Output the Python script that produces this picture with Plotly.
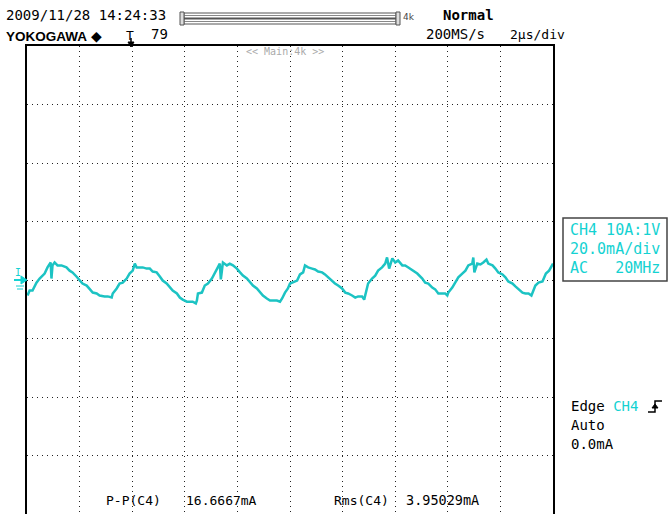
import plotly.graph_objects as go

# ---- data (time in µs, current in mA) ----
time_us = [0.02, 0.10, 0.21, 0.36, 0.48, 0.67, 0.78, 0.90, 0.93, 0.97, 1.05, 1.16, 1.31, 1.50, 1.62,
           1.73, 1.88, 2.00, 2.11, 2.27, 2.38, 2.50, 2.65, 2.76, 2.95, 3.07, 3.22, 3.26, 3.41, 3.52,
           3.64, 3.79, 3.90, 4.02, 4.10, 4.17, 4.29, 4.40, 4.55, 4.67, 4.78, 4.93, 5.05, 5.16, 5.31,
           5.43, 5.54, 5.70, 5.81, 5.92, 6.08, 6.19, 6.30, 6.42, 6.46, 6.50, 6.65, 6.76, 6.88, 7.03,
           7.14, 7.26, 7.33, 7.37, 7.45, 7.60, 7.71, 7.83, 7.98, 8.10, 8.21, 8.36, 8.48, 8.59, 8.74,
           8.86, 8.97, 9.12, 9.24, 9.35, 9.50, 9.62, 9.70, 9.81, 9.92, 10.00, 10.11, 10.27, 10.38,
           10.50, 10.57, 10.69, 10.84, 10.95, 11.07, 11.22, 11.33, 11.45, 11.60, 11.71, 11.83, 11.98,
           12.10, 12.21, 12.36, 12.48, 12.59, 12.74, 12.82, 12.86, 12.97, 13.12, 13.24, 13.35, 13.50,
           13.62, 13.69, 13.77, 13.89, 14.00, 14.11, 14.27, 14.38, 14.50, 14.69, 14.84, 15.03, 15.14,
           15.26, 15.41, 15.52, 15.64, 15.79, 15.90, 15.98, 16.02, 16.17, 16.29, 16.40, 16.55, 16.67,
           16.78, 16.93, 16.97, 17.01, 17.12, 17.24, 17.35, 17.47, 17.54, 17.70, 17.81, 17.92, 18.08,
           18.19, 18.30, 18.46, 18.57, 18.69, 18.84, 18.95, 19.07, 19.18, 19.22, 19.33, 19.45, 19.60,
           19.73, 19.85, 20.00]
current_mA = [-5.3, -3.6, -3.6, -0.9, 0.5, 2.2, 4.3, 6.0, 0.5, 5.0, 6.0, 5.0, 5.0, 4.3, 3.2,
              2.6, 1.2, -0.2, -1.2, -1.9, -2.9, -4.3, -4.6, -5.3, -5.6, -5.6, -6.0, -4.6, -2.9, -1.2,
              -0.9, 0.5, 2.2, 3.2, 5.6, 4.3, 4.3, 4.3, 3.9, 3.9, 2.9, 2.6, 1.2, -0.2, -1.2,
              -2.6, -3.6, -4.6, -6.0, -6.7, -7.4, -7.4, -7.4, -8.0, -7.0, -4.6, -4.3, -1.9, -1.2, 0.5,
              2.2, 4.3, 5.6, 0.2, 6.0, 5.0, 5.6, 5.0, 3.9, 2.6, 1.5, 0.5, -0.9, -1.9, -2.9,
              -4.3, -5.3, -6.3, -7.0, -7.0, -7.0, -7.4, -6.3, -4.3, -2.9, -1.2, -0.9, -0.2, 1.9,
              2.6, 5.0, 4.3, 3.9, 3.6, 2.9, 2.6, 1.9, 0.9, -0.2, -1.2, -1.9, -2.9,
              -4.3, -4.6, -5.3, -6.0, -5.6, -5.6, -6.7, -5.3, -1.2, 0.5, 1.5, 3.2, 4.3,
              5.6, 7.7, 3.9, 7.4, 6.0, 6.7, 5.0, 5.0, 4.3, 3.2, 2.2, 0.5, -0.9,
              -1.2, -2.6, -3.2, -4.6, -4.6, -4.6, -5.3, -4.3, -2.6, -0.9, 0.9, 2.2, 3.2,
              5.0, 5.6, 7.7, 2.6, 5.6, 5.3, 6.0, 7.0, 5.6, 5.0, 3.9, 2.6, 1.9,
              0.9, -0.5, -1.2, -2.2, -3.2, -4.3, -4.6, -4.6, -5.3, -4.3, -1.9, -0.9, -0.5,
              2.2, 3.2, 5.6]

x_range = [0, 20]       # 10 div x 2 µs/div
y_range = [-80, 80]     # 8 div x 20 mA/div

# ---- pixel helpers for layout decorations ----
L, R, T, B = 27, 553, 46, 514
W, H = R - L, B - T
def px(x): return (x - L) / W
def py(y): return (B - y) / H

TRACE = '#1CC3C3'
CYAN = '#14D2D2'
MONO = 'DejaVu Sans Mono, Liberation Mono, monospace'

fig = go.Figure()
fig.add_trace(go.Scatter(x=time_us, y=current_mA, mode='lines',
                         line=dict(color=TRACE, width=2.5), hoverinfo='skip'))

grid = dict(showgrid=True, gridcolor='#222222', gridwidth=1, griddash='1px,4px',
            zeroline=False, showticklabels=False, ticks='', fixedrange=True)
fig.update_xaxes(range=x_range, dtick=2, tick0=0, **grid,
                 showline=True, linecolor='black', linewidth=1.5, mirror=True)
fig.update_yaxes(range=y_range, dtick=20, tick0=-80, **grid,
                 showline=True, linecolor='black', linewidth=1.5, mirror=True)

ann = []
def text(x, y, s, size=14, color='black', family=MONO, xanchor='left', yanchor='middle'):
    ann.append(dict(x=px(x), y=py(y), xref='paper', yref='paper', text=s, showarrow=False,
                    font=dict(family=family, size=size, color=color),
                    xanchor=xanchor, yanchor=yanchor))

text(4, 15, '2009/11/28 14:24:33', size=14)
text(4, 36, '<b>YOKOGAWA</b> ◆', size=13.5, family='Liberation Sans Narrow, Liberation Sans, Arial')
text(124, 35, 'T', size=13)
text(149, 34, '79', size=14)
text(401, 17, '4k', size=9, color='#444444', family='DejaVu Sans')
text(441, 15, '<b>Normal</b>', size=14)
text(424, 34, '200MS/s', size=14)
text(508, 34, '2µs/div', size=13)
text(244, 52, '<< Main:4k >>', size=10, color='#aaaaaa')
text(568, 230, 'CH4 10A:1V', size=15, color=CYAN)
text(568, 249, '20.0mA/div', size=15, color=CYAN)
text(568, 268, 'AC   20MHz', size=15, color=CYAN)
text(569, 406, 'Edge <span style="color:%s">CH4</span>' % CYAN, size=14)
text(569, 425, 'Auto', size=14)
text(569, 444, '0.0mA', size=14)
text(104, 500, 'P-P(C4)', size=13)
text(184, 500, '16.6667mA', size=13)
text(332, 500, 'Rms(C4)', size=13)
text(404, 500, '3.95029mA', size=13.5)
text(18, 272, 'I', size=10, color=CYAN, xanchor='center')

shapes = []
def line(x0, y0, x1, y1, color='black', width=1):
    shapes.append(dict(type='line', xref='paper', yref='paper', x0=px(x0), y0=py(y0),
                       x1=px(x1), y1=py(y1), line=dict(color=color, width=width)))
# acquisition bar
shapes.append(dict(type='rect', xref='paper', yref='paper', x0=px(184), y0=py(13), x1=px(396), y1=py(24),
                   line=dict(color='#555555', width=1), fillcolor='white'))
line(184, 18.5, 396, 18.5, '#555555', 2)
line(184, 15.5, 396, 15.5, '#888888', 1)
line(184, 21.5, 396, 21.5, '#888888', 1)
shapes.append(dict(type='rect', xref='paper', yref='paper', x0=px(180), y0=py(12), x1=px(184), y1=py(25),
                   line=dict(color='#555555', width=1), fillcolor='#dddddd'))
shapes.append(dict(type='rect', xref='paper', yref='paper', x0=px(396), y0=py(12), x1=px(400), y1=py(25),
                   line=dict(color='#555555', width=1), fillcolor='#dddddd'))
# trigger position marker
line(131, 38, 131, 44, 'black', 1.5)
shapes.append(dict(type='path', xref='paper', yref='paper',
                   path='M %f %f L %f %f L %f %f Z' % (px(128), py(42), px(134), py(42), px(131), py(47)),
                   fillcolor='black', line=dict(color='black', width=1)))
# channel info box
shapes.append(dict(type='rect', xref='paper', yref='paper', x0=px(563), y0=py(218), x1=px(667), y1=py(281),
                   line=dict(color='#444444', width=1.5)))
# ground marker
line(14, 280, 25, 280, CYAN, 2)
shapes.append(dict(type='path', xref='paper', yref='paper',
                   path='M %f %f L %f %f L %f %f Z' % (px(21), py(276), px(27), py(280), px(21), py(284)),
                   fillcolor=CYAN, line=dict(color=CYAN, width=1)))
line(16, 286, 24, 286, CYAN, 1)
line(17, 289, 23, 289, CYAN, 1)
# trigger edge symbol
shapes.append(dict(type='path', xref='paper', yref='paper',
                   path='M %f %f L %f %f L %f %f L %f %f' % (px(648), py(412), px(655), py(412),
                                                             px(655), py(401), px(662), py(401)),
                   line=dict(color='black', width=1.5)))
shapes.append(dict(type='path', xref='paper', yref='paper',
                   path='M %f %f L %f %f L %f %f Z' % (px(652), py(408), px(658), py(408), px(655), py(404)),
                   fillcolor='black', line=dict(color='black', width=1)))

fig.update_layout(width=668, height=514, margin=dict(l=L, r=668 - R, t=T, b=0),
                  paper_bgcolor='white', plot_bgcolor='white', showlegend=False,
                  annotations=ann, shapes=shapes)

fig.write_html('out.html', config={'displayModeBar': False},
               post_script="document.body.style.margin='0';document.body.style.overflow='hidden';")
